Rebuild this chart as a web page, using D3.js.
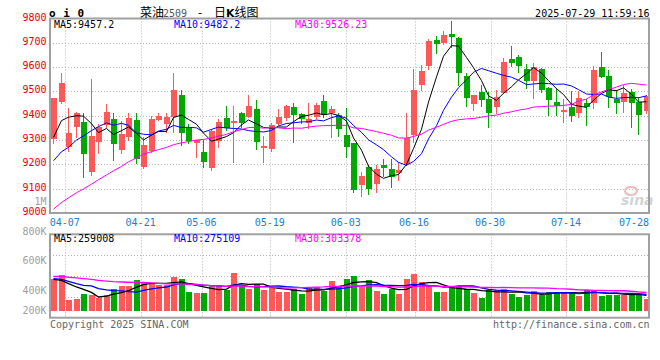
<!DOCTYPE html>
<html><head><meta charset="utf-8">
<script src="https://cdn.jsdelivr.net/npm/d3@7"></script>
<style>
body{margin:0;background:#fff}
svg{display:block}
text{font-family:"DejaVu Sans Mono",monospace;font-size:10px}
</style>
</head><body><svg id="c" width="660" height="360"></svg>
<script>
const dates = ["04-02","04-03","04-07","04-08","04-09","04-10","04-11","04-14","04-15","04-16","04-17","04-18","04-21","04-22","04-23","04-24","04-25","04-28","04-29","04-30","05-06","05-07","05-08","05-09","05-12","05-13","05-14","05-15","05-16","05-19","05-20","05-21","05-22","05-23","05-26","05-27","05-28","05-29","05-30","06-03","06-04","06-05","06-06","06-09","06-10","06-11","06-12","06-13","06-16","06-17","06-18","06-19","06-20","06-23","06-24","06-25","06-26","06-27","06-30","07-01","07-02","07-03","07-04","07-07","07-08","07-09","07-10","07-11","07-14","07-15","07-16","07-17","07-18","07-21","07-22","07-23","07-24","07-25","07-28","07-29"];
const open  = [9306,9457,9270,9355,9373,9170,9293,9362,9385,9259,9311,9383,9190,9256,9383,9366,9394,9485,9348,9289,9252,9184,9296,9390,9371,9410,9394,9428,9266,9263,9366,9390,9435,9407,9369,9394,9461,9413,9403,9321,9287,9115,9190,9119,9197,9180,9163,9202,9321,9526,9605,9712,9698,9736,9719,9563,9448,9499,9469,9437,9495,9633,9643,9592,9544,9591,9515,9458,9417,9435,9410,9451,9451,9602,9563,9468,9458,9499,9458,9421];
const high  = [9473,9577,9433,9417,9413,9552,9366,9450,9413,9378,9413,9413,9314,9399,9411,9410,9577,9506,9366,9300,9300,9344,9387,9440,9440,9417,9485,9465,9317,9369,9427,9444,9454,9413,9454,9454,9485,9440,9410,9433,9287,9170,9197,9197,9221,9221,9211,9413,9591,9609,9716,9728,9748,9791,9724,9575,9485,9526,9499,9506,9636,9687,9650,9612,9616,9595,9519,9513,9468,9503,9503,9468,9605,9663,9588,9506,9526,9509,9478,9485];
const low   = [9287,9451,9256,9314,9147,9156,9248,9355,9218,9246,9300,9204,9184,9251,9383,9334,9334,9280,9289,9232,9190,9178,9270,9341,9211,9355,9394,9262,9211,9256,9362,9383,9293,9369,9348,9391,9394,9311,9317,9232,9088,9071,9078,9085,9152,9108,9136,9197,9293,9506,9591,9659,9695,9684,9526,9440,9424,9440,9355,9410,9492,9605,9581,9513,9472,9499,9403,9403,9376,9378,9396,9362,9431,9558,9437,9413,9417,9352,9325,9410];
const close = [9472,9536,9330,9410,9244,9317,9352,9415,9285,9325,9391,9221,9280,9385,9399,9394,9506,9330,9296,9300,9211,9339,9374,9348,9380,9371,9440,9293,9277,9362,9396,9440,9403,9385,9385,9444,9403,9428,9347,9270,9095,9153,9099,9180,9186,9149,9177,9307,9506,9584,9707,9695,9732,9723,9575,9474,9485,9465,9413,9478,9622,9618,9606,9544,9602,9506,9465,9440,9424,9399,9472,9437,9588,9561,9476,9454,9495,9454,9403,9480];
const volume = [523000,589000,186000,203000,285000,269000,215000,259000,363000,417000,417000,512000,467000,457000,424000,424000,561000,528000,314000,297000,297000,429000,429000,351000,627000,424000,368000,446000,347000,391000,314000,314000,358000,281000,375000,391000,335000,495000,413000,528000,578000,391000,512000,330000,281000,363000,281000,528000,615000,479000,429000,314000,314000,391000,413000,363000,297000,215000,347000,347000,363000,281000,231000,269000,330000,269000,314000,292000,314000,314000,252000,347000,330000,252000,269000,264000,269000,292000,269000,203000];
// closes and volumes of the 29 sessions before 04-02 (estimated from the MA curves)
const priorCloses = [8720,8750,8790,8760,8740,8800,8830,8770,8790,8810,8760,8800,9080,9150,9120,9170,9100,9140,9110,9140,9166,9150,9110,9074,9095,9191,9260,9380,9252];
const priorVolumes = [560000,590000,540000,600000,650000,700000,620000,680000,560000,540000,600000,520000,680000,640000,700000,520000,480000,560000,500000,490000,699000,516000,593000,555000,362000,674000,461000,478000,479000];
const priceTicks = [9800,9700,9600,9500,9400,9300,9200,9100,9000];
const volTickValues = [1000000,800000,600000,400000,200000];
const volTickLabels = ["1M","800K","600K","400K","200K"];
const dateTicks = ["04-07","04-21","05-06","05-19","06-03","06-16","06-30","07-14","07-28"];
const priceLegend = ["MA5:9457.2","MA10:9482.2","MA30:9526.23"];
const volLegend = ["MA5:259008","MA10:275109","MA30:303378"];
const maPeriods = [5,10,30];
const maColors = ["#000000","#0000ff","#ff00ff"];

const RED = "#ff5858", GREEN = "#00a800", FRAME = "#a0a0a0", GRID = "#b4b4b4";
const svg = d3.select("#c");
const L = 50, R = 650;
const mainTop = 18.5, mainBot = 213, volTop = 234.3, volBot = 317.7;

const xb = d3.scaleBand().domain(dates).range([L, R]).padding(0);
const xg = d3.scalePoint().domain(dates).range([L, R]);
const y = d3.scaleLinear().domain([9000, 9800]).range([mainBot, mainTop]);
const yv = d3.scaleLinear().domain([0, 1265000]).range([311, volTop]);
const yvLabel = d3.scaleLinear().domain([200000, 1000000]).range([319.5, 201.5]);

function ma(series, prior, n) {
  const all = prior.concat(series);
  return series.map((_, i) => d3.mean(all.slice(i + prior.length - n + 1, i + prior.length + 1)));
}
const cx = d => Math.round(xb(d)) + 3.5;

// grid
const g = svg.append("g");
const gridDates = dateTicks.filter(d => xg(d) < R - 10);
[[mainTop, mainBot], [volTop, volBot]].forEach(([t, b]) => {
  g.selectAll(null).data(gridDates).enter().append("line")
    .attr("x1", d => Math.round(xg(d)) + 0.5).attr("x2", d => Math.round(xg(d)) + 0.5)
    .attr("y1", t).attr("y2", b)
    .attr("stroke", GRID).attr("stroke-dasharray", "1,2");
});
g.selectAll(null).data(priceTicks.filter(p => p > 9000 && p < 9800)).enter().append("line")
  .attr("x1", L).attr("x2", R).attr("y1", p => Math.round(y(p)) + 0.5).attr("y2", p => Math.round(y(p)) + 0.5)
  .attr("stroke", GRID).attr("stroke-dasharray", "1,2");
const volGridFrac = [0.25, 0.5, 0.75];
g.selectAll(null).data(volGridFrac).enter().append("line")
  .attr("x1", L).attr("x2", R)
  .attr("y1", f => Math.round(volTop + f * (volBot - volTop)) + 0.5)
  .attr("y2", f => Math.round(volTop + f * (volBot - volTop)) + 0.5)
  .attr("stroke", GRID).attr("stroke-dasharray", "1,2");

// watermark
svg.append("ellipse").attr("cx", 631).attr("cy", 191).attr("rx", 6).attr("ry", 4)
  .attr("fill", "none").attr("stroke", "#f2b8b8").attr("stroke-width", 2);
svg.append("text").attr("x", 621).attr("y", 205).text("sina")
  .style("font-family", "DejaVu Sans").style("font-style", "italic").style("font-weight", "bold")
  .style("font-size", "14px").attr("fill", "#d4d4d4");

// candles
const cg = svg.append("g");
const idx = d3.range(dates.length);
cg.selectAll(".wick").data(idx).enter().append("line")
  .attr("x1", i => cx(dates[i])).attr("x2", i => cx(dates[i]))
  .attr("y1", i => Math.round(y(high[i]))).attr("y2", i => Math.round(y(low[i])) + 1)
  .attr("stroke", i => close[i] >= open[i] ? RED : GREEN).attr("stroke-width", 1);
cg.selectAll(".body").data(idx).enter().append("rect")
  .attr("x", i => Math.round(xb(dates[i])) + 1)
  .attr("width", 6)
  .attr("y", i => Math.round(y(Math.max(open[i], close[i]))))
  .attr("height", i => Math.max(1, Math.round(y(Math.min(open[i], close[i]))) - Math.round(y(Math.max(open[i], close[i])))))
  .attr("fill", i => close[i] >= open[i] ? RED : GREEN);

// volume bars
cg.selectAll(".vol").data(idx).enter().append("rect")
  .attr("x", i => Math.round(xb(dates[i])) + 1)
  .attr("width", 6)
  .attr("y", i => Math.round(yv(volume[i])))
  .attr("height", i => 311 - Math.round(yv(volume[i])))
  .attr("fill", i => close[i] >= open[i] ? RED : GREEN);

// MA lines
maPeriods.forEach((n, k) => {
  const m = ma(close, priorCloses, n);
  svg.append("path").datum(m)
    .attr("d", d3.line().x((d, i) => cx(dates[i])).y(d => y(d)))
    .attr("fill", "none").attr("stroke", maColors[k]).attr("stroke-width", 1);
  const mv = ma(volume, priorVolumes, n);
  svg.append("path").datum(mv)
    .attr("d", d3.line().x((d, i) => cx(dates[i])).y(d => yv(d)))
    .attr("fill", "none").attr("stroke", maColors[k]).attr("stroke-width", 1.3);
});

// frames
const fr = svg.append("g").attr("fill", "none").attr("stroke", FRAME).attr("stroke-width", 2);
fr.append("rect").attr("x", L).attr("y", mainTop).attr("width", R - L - 1).attr("height", mainBot - mainTop);
fr.append("rect").attr("x", L).attr("y", volTop).attr("width", R - L - 1).attr("height", volBot - volTop);

// y labels
svg.selectAll(null).data(priceTicks).enter().append("text")
  .attr("x", 46.5).attr("y", p => y(p) - 1.5).attr("dy", "0.35em")
  .attr("text-anchor", "end").attr("fill", "#e80000").text(p => p);
svg.selectAll(null).data(volTickValues).enter().append("text")
  .attr("x", 46.5).attr("y", (v, i) => Math.min(310, yvLabel(v))).attr("dy", "0.35em")
  .attr("text-anchor", "end").attr("fill", "#a0a0a0").text((v, i) => volTickLabels[i]);

// x labels
svg.selectAll(null).data(dateTicks).enter().append("text")
  .attr("x", d => Math.min(xg(d) - 0.5, R - 16)).attr("y", 222).attr("dy", "0.35em")
  .attr("text-anchor", "middle").attr("fill", "#1a7fd6").text(d => d);

// legends
const legX = [54, 174, 295];
svg.selectAll(null).data(priceLegend).enter().append("text")
  .attr("x", (d, i) => legX[i]).attr("y", 24).attr("dy", "0.35em")
  .attr("fill", (d, i) => maColors[i]).text(d => d);
svg.selectAll(null).data(volLegend).enter().append("text")
  .attr("x", (d, i) => legX[i]).attr("y", 238.5).attr("dy", "0.35em")
  .attr("fill", (d, i) => maColors[i]).text(d => d);

// header
svg.append("text").attr("x", 49).attr("y", 13).attr("dy", "0.35em")
  .style("font-weight", "bold").style("font-size", "11px").style("letter-spacing", "0.5px")
  .attr("fill", "#000").text("o i 0");
const cjk = "'Noto Sans CJK SC', sans-serif";
const t = svg.append("text").attr("y", 17).style("font-size", "12px").style("font-family", cjk).attr("fill", "#000");
t.append("tspan").attr("x", 140).text("菜油");
t.append("tspan").attr("x", 163).attr("fill", "#555").style("font-family", "'DejaVu Sans Mono', monospace").style("font-size", "10px").text("2509");
t.append("tspan").attr("x", 198).text("-");
t.append("tspan").attr("x", 214).text("日");
t.append("tspan").style("font-weight", "bold").style("font-family", "'DejaVu Sans', sans-serif").style("font-size", "11px").text("K");
t.append("tspan").text("线图");
svg.append("text").attr("x", 649.5).attr("y", 13).attr("dy", "0.35em").attr("text-anchor", "end")
  .attr("fill", "#000").text("2025-07-29 11:59:16");

// footer
svg.append("text").attr("x", 50).attr("y", 324).attr("dy", "0.35em").attr("fill", "#666").text("Copyright 2025 SINA.COM");
svg.append("text").attr("x", 649.5).attr("y", 324).attr("dy", "0.35em").attr("text-anchor", "end").attr("fill", "#666").text("http://finance.sina.com.cn");
</script>
</body></html>
